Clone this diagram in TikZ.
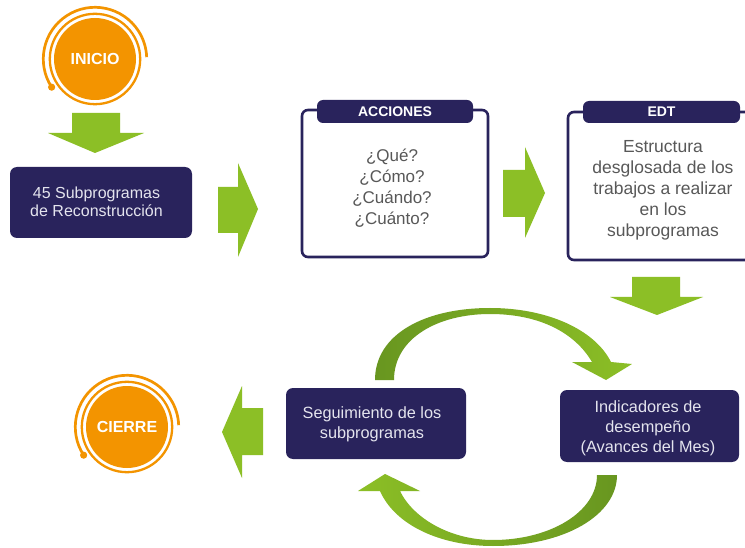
\documentclass[tikz,border=0pt]{standalone}
\usepackage{fontspec}
\setmainfont{Liberation Sans}
\definecolor{navy}{RGB}{41,35,92}
\definecolor{myorange}{RGB}{243,148,0}
\definecolor{glight}{RGB}{140,191,38}
\definecolor{gdark}{RGB}{104,150,32}
\definecolor{gshine}{RGB}{170,210,90}
\definecolor{boxtext}{RGB}{228,228,238}
\definecolor{graytext}{RGB}{88,88,88}
\begin{document}
\begin{tikzpicture}[x=1pt,y=-1pt,
  navybox/.style={fill=navy, rounded corners=7pt, inner sep=0pt},
  boxlabel/.style={text=boxtext, align=center, inner sep=0pt},
  framebox/.style={draw=navy, line width=2.6pt, rounded corners=6pt, fill=white, inner sep=0pt},
  tabbox/.style={fill=navy, rounded corners=6pt, inner sep=0pt, text=white,
    font=\fontsize{14}{16}\selectfont\bfseries},
  bodytext/.style={text=graytext, align=center, inner sep=0pt},
  startend/.style={circle, fill=myorange, inner sep=0pt, minimum size=82pt, text=white,
    font=\fontsize{16}{18}\selectfont\bfseries},
  ring/.style={draw=myorange, line width=2.3pt},
  outerring/.style={draw=myorange, line width=2.7pt},
  blockarrow/.style={fill=glight}
]
\useasboundingbox (0,0) rectangle (745,548);
\fill[white] (0,0) rectangle (745,548);

% INICIO
\node[startend] (inicio) at (95,59) {INICIO};
\draw[ring] (inicio.center) circle[radius=45.2];
\draw[outerring] ([shift={(147:51.7)}]inicio.center) arc[start angle=147, end angle=358, radius=51.7];
\fill[myorange] ([shift={(147:51.7)}]inicio.center) circle[radius=3.6];

% down arrow 1
\fill[blockarrow] (72,113) -- (120,113) -- (120,133) -- (144,133) -- (95,153) -- (48,133) -- (72,133) -- cycle;

% 45 Subprogramas
\node[navybox, minimum width=182pt, minimum height=71pt] (sub) at (101,202.5) {};
\node[boxlabel, font=\fontsize{16}{18}\selectfont] (sublabel) at (96.5,202) {45 Subprogramas\\de Reconstrucción};

% right arrow 1
\fill[blockarrow] (218,187) -- (238,187) -- (238,163) -- (258,209) -- (238,257) -- (238,233) -- (218,233) -- cycle;

% ACCIONES
\node[framebox, minimum width=186pt, minimum height=147pt] (accf) at (395,183.5) {};
\node[tabbox, minimum width=156pt, minimum height=23pt] (acct) at (395,111.5) {ACCIONES};
\node[bodytext, font=\fontsize{17}{21}\selectfont] (accq) at (392,188) {¿Qué?\\¿Cómo?\\¿Cuándo?\\¿Cuánto?};

% right arrow 2
\fill[blockarrow] (503,170) -- (525,170) -- (525,147) -- (545,193) -- (525,238) -- (525,217) -- (503,217) -- cycle;

% EDT
\node[framebox, minimum width=212pt, minimum height=148pt] (edtf) at (674,186) {};
\node[tabbox, minimum width=157pt, minimum height=22pt] (edtt) at (661.5,112) {EDT};
\node[bodytext, font=\fontsize{17.5}{21}\selectfont] (edtq) at (663,190.5) {Estructura\\desglosada de los\\trabajos a realizar\\en los\\subprogramas};

% down arrow 3
\fill[blockarrow] (632,277) -- (680,277) -- (680,297) -- (703,297) -- (657,315) -- (610,297) -- (632,297) -- cycle;

% Indicadores
\node[navybox, minimum width=179pt, minimum height=72pt] (ind) at (649.5,426) {};
\node[boxlabel, font=\fontsize{16.3}{20}\selectfont] (indlabel) at (648,428) {Indicadores de\\desempeño\\(Avances del Mes)};

% Seguimiento
\node[navybox, minimum width=180pt, minimum height=71pt] (seg) at (376,423.5) {};
\node[boxlabel, font=\fontsize{16.3}{20}\selectfont] (seglabel) at (372,424) {Seguimiento de los\\subprogramas};

% curved arrow top (Seguimiento -> Indicadores)
\shade[left color=gdark, middle color=gshine, right color=glight]
  (375,380) .. controls (375,334) and (425,308) .. (490,308)
  .. controls (548,308) and (595,330) .. (611,362)
  -- (632,364) -- (606,380) -- (572,362) -- (592,362)
  .. controls (575,333) and (540,314) .. (490,314)
  .. controls (438,314) and (394,338) .. (394,380) -- cycle;

% curved arrow bottom (Indicadores -> Seguimiento)
\shade[left color=glight, middle color=gshine, right color=gdark]
  (617,475) .. controls (617,515) and (565,546) .. (493,546)
  .. controls (440,546) and (395,525) .. (380,491)
  -- (358,491) -- (385,474) -- (420,491) -- (400,491)
  .. controls (413,518) and (450,540) .. (493,540)
  .. controls (550,540) and (597,512) .. (597,475) -- cycle;

% left arrow
\fill[blockarrow] (263,408) -- (242,408) -- (242,386) -- (222,432) -- (242,478) -- (242,455) -- (263,455) -- cycle;

% CIERRE
\node[startend] (cierre) at (127,427) {CIERRE};
\draw[ring] (cierre.center) circle[radius=45.2];
\draw[outerring] ([shift={(147:51.7)}]cierre.center) arc[start angle=147, end angle=358, radius=51.7];
\fill[myorange] ([shift={(147:51.7)}]cierre.center) circle[radius=3.6];
\end{tikzpicture}
\end{document}
